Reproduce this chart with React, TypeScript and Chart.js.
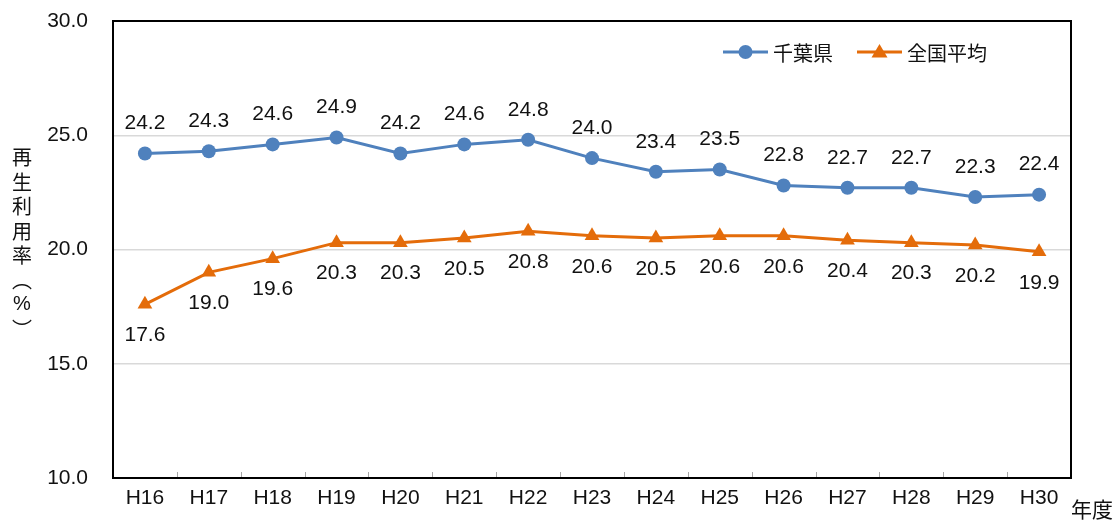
import React, { useEffect, useRef } from 'react';
import { Chart, registerables } from 'chart.js';

Chart.register(...registerables);

const categories = ['H16', 'H17', 'H18', 'H19', 'H20', 'H21', 'H22', 'H23', 'H24', 'H25', 'H26', 'H27', 'H28', 'H29', 'H30'];
const chibaValues = [24.2, 24.3, 24.6, 24.9, 24.2, 24.6, 24.8, 24.0, 23.4, 23.5, 22.8, 22.7, 22.7, 22.3, 22.4];
const nationalValues = [17.6, 19.0, 19.6, 20.3, 20.3, 20.5, 20.8, 20.6, 20.5, 20.6, 20.6, 20.4, 20.3, 20.2, 19.9];
const seriesNames = ['千葉県', '全国平均'];
const yTitleChars = ['再', '生', '利', '用', '率', '︵', '%', '︶'];
const xUnitLabel = '年度';
const yMin = 10;
const yMax = 30;
const yStep = 5;

const BLUE = '#4f81bd';
const ORANGE = '#e46c0a';
const LATIN = '"Liberation Sans", Arial, sans-serif';
const CJK = '"Noto Sans CJK JP", "Noto Sans", sans-serif';

const decorPlugin = {
  id: 'decor',
  afterDatasetsDraw(chart: any) {
    const { ctx, chartArea } = chart;
    const xs = chart.scales.x;
    ctx.save();
    // x category tick marks inside
    ctx.strokeStyle = '#a6a6a6';
    ctx.lineWidth = 1;
    for (let i = 0; i < categories.length - 1; i++) {
      const px = Math.round((xs.getPixelForValue(i) + xs.getPixelForValue(i + 1)) / 2) + 0.5;
      ctx.beginPath();
      ctx.moveTo(px, chartArea.bottom);
      ctx.lineTo(px, chartArea.bottom - 6);
      ctx.stroke();
    }
    // border
    ctx.strokeStyle = '#000';
    ctx.lineWidth = 2;
    ctx.strokeRect(chartArea.left, chartArea.top, chartArea.right - chartArea.left, chartArea.bottom - chartArea.top);

    // data labels
    ctx.font = `21px ${LATIN}`;
    ctx.fillStyle = '#111';
    ctx.textAlign = 'center';
    ctx.textBaseline = 'middle';
    chart.data.datasets.forEach((ds: any, di: number) => {
      const meta = chart.getDatasetMeta(di);
      meta.data.forEach((pt: any, i: number) => {
        const v = ds.data[i] as number;
        const off = di === 0 ? -30 : 31;
        ctx.fillText(v.toFixed(1), pt.x, pt.y + off);
      });
    });

    // legend
    const ly = 52;
    const items = [
      { x: 723, color: BLUE, style: 'circle', name: seriesNames[0] },
      { x: 857, color: ORANGE, style: 'triangle', name: seriesNames[1] },
    ];
    items.forEach((it) => {
      ctx.strokeStyle = it.color;
      ctx.lineWidth = 3;
      ctx.beginPath();
      ctx.moveTo(it.x, ly);
      ctx.lineTo(it.x + 45, ly);
      ctx.stroke();
      ctx.fillStyle = it.color;
      const cx = it.x + 22.5;
      if (it.style === 'circle') {
        ctx.beginPath();
        ctx.arc(cx, ly, 7, 0, Math.PI * 2);
        ctx.fill();
      } else {
        ctx.beginPath();
        ctx.moveTo(cx, ly - 8);
        ctx.lineTo(cx + 8, ly + 5.5);
        ctx.lineTo(cx - 8, ly + 5.5);
        ctx.closePath();
        ctx.fill();
      }
      ctx.fillStyle = '#111';
      ctx.font = `20px ${CJK}`;
      ctx.textAlign = 'left';
      ctx.textBaseline = 'middle';
      ctx.fillText(it.name, it.x + 50, ly + 1);
    });

    // y title (vertical stacked)
    ctx.textAlign = 'center';
    ctx.textBaseline = 'middle';
    ctx.fillStyle = '#111';
    const midY = (chartArea.top + chartArea.bottom) / 2 - 6;
    const pitch = 24.5;
    const startY = midY - ((yTitleChars.length - 1) * pitch) / 2;
    yTitleChars.forEach((c, i) => {
      ctx.font = c === '%' ? `20px ${LATIN}` : `20px ${CJK}`;
      ctx.fillText(c, 22, startY + i * pitch);
    });

    // x unit label
    ctx.font = `21px ${CJK}`;
    ctx.textAlign = 'left';
    ctx.fillText(xUnitLabel, chartArea.right, chartArea.bottom + 31);
    ctx.restore();
  },
};

export default function App() {
  const ref = useRef<HTMLCanvasElement>(null);
  useEffect(() => {
    if (!ref.current) return;
    const chart = new Chart(ref.current, {
      type: 'line',
      data: {
        labels: categories,
        datasets: [
          {
            label: seriesNames[0],
            data: chibaValues,
            borderColor: BLUE,
            backgroundColor: BLUE,
            borderWidth: 3,
            pointStyle: 'circle',
            pointRadius: 7,
            pointBorderWidth: 0,
            tension: 0,
          },
          {
            label: seriesNames[1],
            data: nationalValues,
            borderColor: ORANGE,
            backgroundColor: ORANGE,
            borderWidth: 3,
            pointStyle: 'triangle',
            pointRadius: 8.5,
            pointBorderWidth: 0,
            tension: 0,
          },
        ],
      },
      options: {
        animation: false,
        responsive: false,
        maintainAspectRatio: false,
        layout: { padding: { left: 0, right: 47, top: 21, bottom: 0 } },
        plugins: { legend: { display: false }, tooltip: { enabled: false } },
        scales: {
          x: {
            offset: true,
            grid: { display: false, drawTicks: false },
            border: { display: false },
            ticks: { padding: 8, color: '#111', font: { family: LATIN, size: 21 }, maxRotation: 0, autoSkip: false },
            afterFit: (s: any) => { s.height = 42; s.paddingLeft = 0; s.paddingRight = 0; },
          },
          y: {
            min: yMin,
            max: yMax,
            grid: { color: '#d9d9d9', lineWidth: 1.5, drawTicks: false },
            border: { display: false },
            ticks: {
              stepSize: yStep,
              padding: 25,
              color: '#111',
              font: { family: LATIN, size: 21 },
              callback: (v: any) => Number(v).toFixed(1),
            },
            afterFit: (s: any) => { s.width = 113; s.paddingTop = 0; s.paddingBottom = 0; },
          },
        },
      },
      plugins: [decorPlugin],
    });
    return () => chart.destroy();
  }, []);
  return (
    <div style={{ position: 'fixed', left: 0, top: 0, width: 1118, height: 520, background: '#fff' }}>
      <canvas ref={ref} width={1118} height={520} style={{ width: 1118, height: 520 }} />
    </div>
  );
}
